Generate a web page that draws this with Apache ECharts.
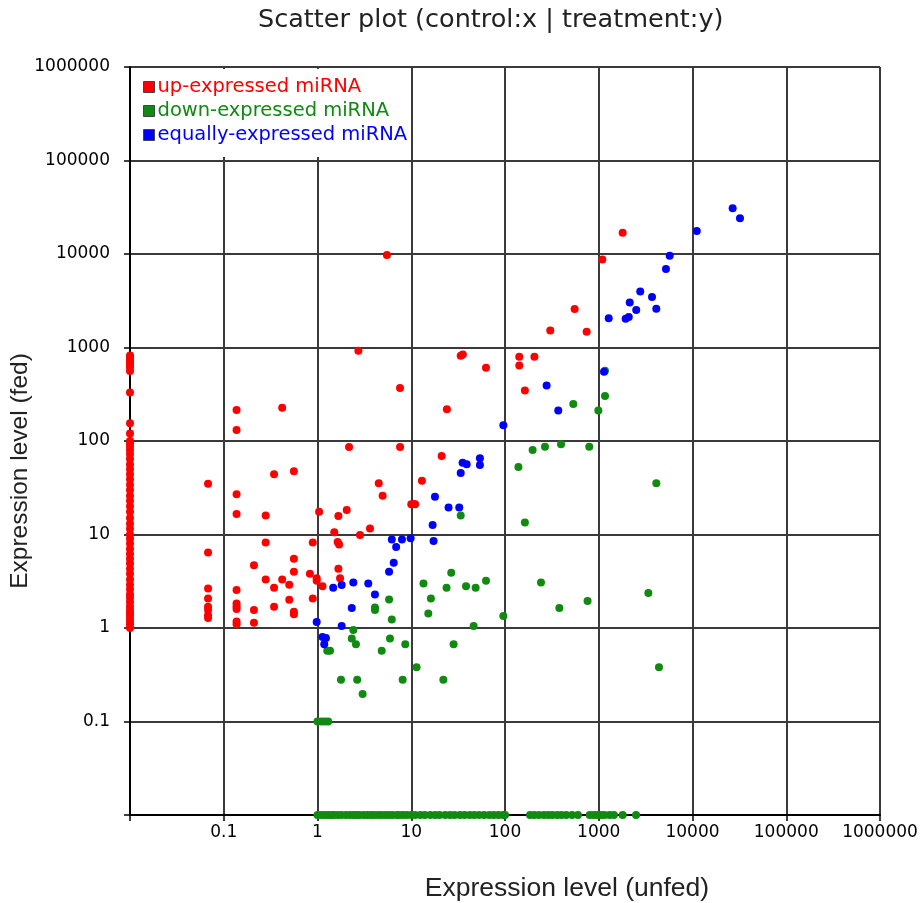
<!DOCTYPE html>
<html>
<head>
<meta charset="utf-8">
<script src="https://cdn.jsdelivr.net/npm/echarts@6/dist/echarts.min.js"></script>
<style>html,body{margin:0;padding:0;background:#fff;}#c{width:924px;height:903px;}</style>
</head>
<body>
<div id="c"></div>
<script>
// ---- data (control = x, treatment = y) ----
const AXIS_MIN = 0.01; // zero values are drawn on the axis minimum
const AXIS_MAX = 1000000;

const upPoints = [
  [0.137,215],[0.137,131],[0.42,227],[0.068,35],[0.344,44],[0.56,47.5],[0.137,27],[0.137,16.6],[0.28,16],[1.04,17.5],
  [0.068,6.4],[0.28,8.2],[0.89,8.2],[0.21,4.7],[0.56,5.5],[0.56,4.0],[0.28,3.3],[0.344,2.7],[0.42,3.3],[0.5,2.9],
  [0.83,3.8],[0.89,2.07],[0.5,2.0],[0.344,1.69],[0.56,1.49],[0.56,1.4],[0.21,1.56],[0.21,1.14],[0.137,2.55],[0.137,1.83],
  [0.137,1.7],[0.137,1.6],[0.137,1.17],[0.137,1.1],[0.068,2.64],[0.068,2.07],[0.068,1.69],[0.068,1.56],[0.068,1.37],[0.068,1.28],
  [1.67,15.8],[2.05,18.3],[10,21],[10.6,21.2],[11,21],[3.63,11.6],[2.84,9.9],[1.51,10.6],[1.64,8.3],[1.7,7.8],
  [0.98,3.2],[0.98,3.4],[1.13,2.8],[1.67,4.3],[1.74,3.4],
  [2.17,86],[7.6,86],[2.73,925],[33.7,815],[35.5,841],[62.7,608],[7.59,369],[24,218],[21.1,69],[4.5,35.3],
  [4.95,25.9],[13,37.6],[5.5,9750],
  [1799,16900],[1091,8730],[743,1476],[553,2580],[304,1520],[142,794],[206,794],[142,643],[163,347]
];
// up-expressed miRNAs with zero control expression (treatment values)
const upZeroControlY = [820,780,740,700,660,620,560,330,155,120,100,95,88,80,72,64,56,50,44,39,34,30,26,23,20,17.5,15,13,11.5,10,9,8,7,6.2,5.5,4.9,4.3,3.8,3.3,2.9,2.6,2.3,2.1,1.9,1.7,1.55,1.45,1.35,1.25,1.15,1.08,1.0];

const downPoints = [
  [33.7,16],[26.7,3.9],[13.5,3.0],[23.8,2.7],[38.4,2.8],[48.6,2.7],[62.7,3.2],[16.2,2.07],[15.2,1.43],[46.3,1.05],
  [5.8,2.02],[4.1,1.66],[4.1,1.56],[6.2,1.23],[2.41,0.95],[2.32,0.77],[2.57,0.67],[5.93,0.77],[8.63,0.67],[4.84,0.57],
  [1.27,0.57],[1.36,0.57],[28.3,0.67],[11.4,0.38],[22,0.28],[1.78,0.28],[2.65,0.28],[8.1,0.28],[3.03,0.197],
  [1.0,0.1],[1.1,0.1],[1.2,0.1],[1.3,0.1],
  [1166,564],[1166,302],[535,249],[990,212],[197,80],[267,87],[396,92.5],[792,87],[139,52.8],[4110,35.3],
  [163,13.4],[242,3.07],[96,1.34],[380,1.64],[760,1.94],[3380,2.37],[4390,0.38]
];
// down-expressed miRNAs with zero treatment expression (control values)
const downZeroTreatmentX = [1,1.1,1.2,1.3,1.4,1.5,1.65,1.8,2,2.2,2.4,2.6,2.8,3.1,3.4,3.7,4,4.4,4.8,5.3,5.8,6.3,7,7.5,8.2,9,10,11,12.5,14,16,18,20,23,26,29,33,37,42,47,53,60,68,76,85,95,100,185,205,230,260,290,320,360,400,450,520,600,800,880,960,1050,1150,1300,1450,1800,2500];

const equalPoints = [
  [26800,30800],[32100,24100],[11100,17600],[5710,9550],[5210,6920],[2770,3960],[2140,3030],[3700,3470],[2510,2520],[4110,2600],
  [1277,2050],[1936,2030],[2090,2120],
  [1138,551],[278,393],[370,212],[96,147],[54,65.3],[54,55.4],[35.3,58.4],[39,56.5],[33.7,45.6],[17.9,25.4],[25,19.4],
  [32.5,19.4],[16.9,12.6],[17.3,8.5],[6.2,8.85],[7.96,8.85],[9.85,9.1],[6.9,7.36],[6.5,5.0],[5.8,4.0],[1.47,2.7],
  [1.81,2.88],[2.41,3.07],[3.48,2.99],[4.1,2.28],[2.32,1.64],[0.98,1.16],[1.81,1.05],[1.13,0.80],[1.23,0.78],[1.18,0.67]
];

const seriesNames = ['up-expressed miRNA','down-expressed miRNA','equally-expressed miRNA'];
const seriesColors = ['#ff0000','#118a11','#0000ff'];

// ---- build ----
const upData = upPoints.concat(upZeroControlY.map(y => [AXIS_MIN, y]));
const downData = downPoints.concat(downZeroTreatmentX.map(x => [x, AXIS_MIN]));
const eqData = equalPoints;

function fmt(v){
  const n = Number(Number(v).toPrecision(6));
  if (n < 0.05) return '';
  return String(n);
}
const FONT = 'DejaVu Sans';
const chart = echarts.init(document.getElementById('c'), null, {renderer:'canvas'});
const axisCommon = {
  type:'log', logBase:10, min:AXIS_MIN, max:AXIS_MAX, splitNumber:8,
  nameMoveOverlap:false,
  axisLine:{show:true, onZero:false, lineStyle:{color:'#000', width:2}},
  axisTick:{show:true, inside:false, length:6, lineStyle:{color:'#000', width:1.5}},
  splitLine:{show:true, showMinLine:true, showMaxLine:true, lineStyle:{color:'#3a3a3a', width:2}},
  minorTick:{show:false}, minorSplitLine:{show:false}
};
chart.setOption({
  animation:false,
  backgroundColor:'#fff',
  title:{
    text:'Scatter plot (control:x | treatment:y)',
    left:258, top:7, padding:0,
    textStyle:{fontFamily:FONT, fontSize:25.5, fontWeight:'normal', color:'#222'}
  },
  legend:{
    orient:'vertical', left:132, top:69,
    padding:[8,2,12,11],
    backgroundColor:'#fff',
    itemWidth:11, itemHeight:11, itemGap:4,
    icon:'rect',
    selectedMode:false,
    textStyle:{fontFamily:FONT, fontSize:19.5, lineHeight:19, padding:[0,0,0,-2]},
    data: seriesNames.map((n,i)=>({name:n, textStyle:{color:seriesColors[i]}, itemStyle:{color:seriesColors[i], borderColor:'#444', borderWidth:1}}))
  },
  grid:{left:130, right:44, top:67, bottom:88, containLabel:false, outerBoundsMode:'none'},
  xAxis: Object.assign({}, axisCommon, {
    name:'Expression level (unfed)', nameLocation:'middle', nameGap:60,
    nameTextStyle:{fontFamily:'Liberation Sans', fontSize:26.5, color:'#222', padding:[0,0,0,124]},
    axisLabel:{formatter:fmt, margin:9, fontFamily:FONT, fontSize:17, color:'#000'}
  }),
  yAxis: Object.assign({}, axisCommon, {
    name:'Expression level (fed)', nameLocation:'middle', nameGap:97,
    nameTextStyle:{fontFamily:'Liberation Sans', fontSize:24.5, color:'#222', padding:[0,60,0,0]},
    axisLabel:{formatter:fmt, margin:20, fontFamily:FONT, fontSize:17, color:'#000'}
  }),
  series:[
    {name:seriesNames[0], type:'scatter', data:upData, symbolSize:8, clip:false, itemStyle:{color:seriesColors[0], opacity:1}, z:3},
    {name:seriesNames[1], type:'scatter', data:downData, symbolSize:8, clip:false, itemStyle:{color:seriesColors[1], opacity:1}, z:4},
    {name:seriesNames[2], type:'scatter', data:eqData, symbolSize:8, clip:false, itemStyle:{color:seriesColors[2], opacity:1}, z:5}
  ]
});
</script>
</body>
</html>
